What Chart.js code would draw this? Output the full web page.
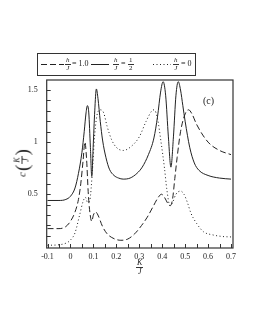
<!DOCTYPE html>
<html>
<head>
<meta charset="utf-8">
<script src="https://cdn.jsdelivr.net/npm/chart.js@4/dist/chart.umd.min.js"></script>
<style>
  html, body { margin: 0; padding: 0; background: #fff; }
  #wrap { position: relative; width: 255px; height: 330px; font-family: "Liberation Serif", serif; color: #222; }
  canvas { position: absolute; left: 0; top: 0; }
  .abs { position: absolute; white-space: nowrap; }
  .fr { position: absolute; display: flex; flex-direction: column; align-items: center; font-size: 7px; line-height: 7px; }
  .fr span:first-child { border-bottom: 1px solid #333; padding: 0 1px; }
  .it { font-style: italic; }
  #legend { position: absolute; left: 37px; top: 53px; width: 157px; height: 21px; border: 1px solid #333; }
  .txt { position: absolute; font-size: 8px; line-height: 8px; }
</style>
</head>
<body>
<div id="wrap">
  <canvas id="chart" width="255" height="330"></canvas>

  <div id="legend">
    <svg width="157" height="21" style="position:absolute;left:0;top:0">
      <line x1="3" y1="10.5" x2="26" y2="10.5" stroke="#222" stroke-width="1" stroke-dasharray="6,3"></line>
      <line x1="53" y1="10.5" x2="71" y2="10.5" stroke="#222" stroke-width="1"></line>
      <line x1="115" y1="10.5" x2="133" y2="10.5" stroke="#222" stroke-width="1" stroke-dasharray="1,2.5"></line>
    </svg>
  </div>
  <div class="fr it" style="left:65px;top:57px"><span>h</span><span>J</span></div>
  <div class="txt" style="left:72px;top:60px">= 1.0</div>
  <div class="fr it" style="left:113px;top:57px"><span>h</span><span>J</span></div>
  <div class="txt" style="left:121px;top:60px">=</div>
  <div class="fr" style="left:128px;top:57px"><span>1</span><span>2</span></div>
  <div class="fr it" style="left:173px;top:57px"><span>h</span><span>J</span></div>
  <div class="txt" style="left:181px;top:60px">= 0</div>

  <div class="abs" style="left:203px;top:95px;font-size:10px">(c)</div>

  <div class="abs" style="left:136px;top:259px">
    <div class="fr it" style="position:relative;font-size:8px;line-height:8px"><span>K</span><span>J</span></div>
  </div>

  <div class="abs" style="left:22px;top:163px;transform:translate(-50%,-50%) rotate(-90deg);display:flex;align-items:center;gap:1px">
    <span class="it" style="font-size:11px;line-height:11px">c</span>
    <span style="font-size:19px;line-height:19px;font-weight:300">(</span>
    <div class="fr it" style="position:relative;font-size:8px;line-height:8px"><span>K</span><span>J</span></div>
    <span style="font-size:19px;line-height:19px;font-weight:300">)</span>
  </div>
</div>

<script>
  // h/J = 1.0 (dashed)
  const DASH_X = [-0.1, -0.05, -0.02, 0, 0.02, 0.035, 0.045, 0.055, 0.063, 0.07, 0.078, 0.085, 0.093, 0.1, 0.11, 0.12, 0.14, 0.16, 0.18, 0.2, 0.22, 0.25, 0.28, 0.31, 0.335, 0.36, 0.38, 0.397, 0.41, 0.425, 0.435, 0.445, 0.455, 0.465, 0.48, 0.5, 0.515, 0.53, 0.55, 0.6, 0.65, 0.7];
  const DASH_Y = [0.17, 0.17, 0.19, 0.24, 0.33, 0.45, 0.6, 0.82, 1.0, 0.85, 0.5, 0.32, 0.24, 0.3, 0.33, 0.3, 0.19, 0.12, 0.085, 0.065, 0.058, 0.07, 0.12, 0.2, 0.28, 0.38, 0.46, 0.5, 0.47, 0.41, 0.39, 0.45, 0.65, 0.85, 1.1, 1.27, 1.31, 1.27, 1.17, 1.0, 0.92, 0.88];

  // h/J = 1/2 (solid)
  const SOLID_X = [-0.1, -0.05, -0.02, 0, 0.02, 0.035, 0.05, 0.06, 0.068, 0.074, 0.08, 0.087, 0.093, 0.099, 0.106, 0.113, 0.12, 0.13, 0.14, 0.155, 0.17, 0.19, 0.21, 0.23, 0.26, 0.29, 0.313, 0.34, 0.364, 0.38, 0.393, 0.404, 0.415, 0.427, 0.438, 0.449, 0.46, 0.47, 0.48, 0.49, 0.5, 0.52, 0.54, 0.56, 0.6, 0.65, 0.7];
  const SOLID_Y = [0.44, 0.44, 0.45, 0.48, 0.56, 0.7, 0.9, 1.1, 1.28, 1.35, 1.28, 0.95, 0.67, 0.95, 1.3, 1.51, 1.42, 1.2, 1.02, 0.85, 0.74, 0.68, 0.655, 0.645, 0.655, 0.7, 0.76, 0.88, 1.04, 1.25, 1.48, 1.58, 1.45, 1.05, 0.76, 1.05, 1.45, 1.58, 1.5, 1.35, 1.2, 0.95, 0.8, 0.73, 0.68, 0.655, 0.645];

  // h/J = 0 (dotted)
  const DOT_X = [-0.1, -0.05, -0.02, 0, 0.02, 0.04, 0.055, 0.065, 0.075, 0.085, 0.095, 0.105, 0.115, 0.13, 0.145, 0.16, 0.18, 0.2, 0.23, 0.26, 0.3, 0.33, 0.355, 0.365, 0.38, 0.395, 0.41, 0.42, 0.434, 0.445, 0.46, 0.48, 0.495, 0.51, 0.525, 0.55, 0.58, 0.62, 0.66, 0.7];
  const DOT_Y = [0.01, 0.015, 0.03, 0.06, 0.13, 0.3, 0.43, 0.47, 0.42, 0.45, 0.7, 1.05, 1.25, 1.31, 1.28, 1.15, 1.02, 0.95, 0.92, 0.95, 1.05, 1.2, 1.3, 1.31, 1.22, 1.0, 0.75, 0.55, 0.39, 0.42, 0.5, 0.53, 0.5, 0.42, 0.32, 0.22, 0.14, 0.11, 0.095, 0.09];

  const X_TICKS = [-0.1, -0.05, 0, 0.05, 0.1, 0.15, 0.2, 0.25, 0.3, 0.35, 0.4, 0.45, 0.5, 0.55, 0.6, 0.65, 0.7];
  const X_LABELS = [-0.1, 0, 0.1, 0.2, 0.3, 0.4, 0.5, 0.6, 0.7];
  const Y_TICKS = [0.1, 0.2, 0.3, 0.4, 0.5, 0.6, 0.7, 0.8, 0.9, 1, 1.1, 1.2, 1.3, 1.4, 1.5];
  const Y_LABELS = [0.5, 1, 1.5];

  function pts(xs, ys) {
    return xs.map(function (x, i) { return { x: x, y: ys[i] }; });
  }

  function isLabel(list, v) {
    return list.some(function (l) { return Math.abs(l - v) < 1e-9; });
  }

  // frame plus inward tick marks, like the original plot
  const framePlugin = {
    id: "frame",
    afterDraw: function (chart) {
      const ctx = chart.ctx;
      const a = chart.chartArea;
      ctx.save();
      ctx.strokeStyle = "#333";
      ctx.lineWidth = 1.2;
      ctx.strokeRect(a.left, a.top, a.right - a.left, a.bottom - a.top);
      ctx.lineWidth = 1;
      chart.scales.x.ticks.forEach(function (t) {
        const px = Math.round(chart.scales.x.getPixelForValue(t.value)) + 0.5;
        ctx.beginPath();
        ctx.moveTo(px, a.bottom);
        ctx.lineTo(px, a.bottom - 4);
        ctx.stroke();
      });
      chart.scales.y.ticks.forEach(function (t) {
        const py = Math.round(chart.scales.y.getPixelForValue(t.value)) + 0.5;
        ctx.beginPath();
        ctx.moveTo(a.left, py);
        ctx.lineTo(a.left + 4, py);
        ctx.stroke();
      });
      ctx.restore();
    },
  };

  const common = { borderColor: "#222", borderWidth: 1, pointRadius: 0, fill: false, cubicInterpolationMode: "monotone" };

  new Chart(document.getElementById("chart"), {
    type: "line",
    data: {
      datasets: [
        Object.assign({ label: "h/J = 1.0", data: pts(DASH_X, DASH_Y), borderDash: [6, 3] }, common),
        Object.assign({ label: "h/J = 1/2", data: pts(SOLID_X, SOLID_Y) }, common),
        Object.assign({ label: "h/J = 0", data: pts(DOT_X, DOT_Y), borderDash: [1, 2.5] }, common),
      ],
    },
    options: {
      responsive: false,
      animation: false,
      events: [],
      layout: { padding: { left: 0, top: 80, right: 22, bottom: 62 } },
      plugins: { legend: { display: false }, tooltip: { enabled: false } },
      scales: {
        x: {
          type: "linear",
          min: -0.1035,
          max: 0.7087,
          afterBuildTicks: function (s) { s.ticks = X_TICKS.map(function (v) { return { value: v }; }); },
          afterFit: function (s) { s.height = 20; },
          border: { display: false },
          grid: { display: false, drawTicks: false },
          ticks: {
            autoSkip: false,
            maxRotation: 0,
            padding: 4,
            color: "#222",
            font: { family: "Liberation Serif", size: 8 },
            callback: function (v) { return isLabel(X_LABELS, v) ? String(v) : ""; },
          },
        },
        y: {
          type: "linear",
          min: -0.016,
          max: 1.596,
          afterBuildTicks: function (s) { s.ticks = Y_TICKS.map(function (v) { return { value: v }; }); },
          afterFit: function (s) { s.width = 46.7; },
          border: { display: false },
          grid: { display: false, drawTicks: false },
          ticks: {
            autoSkip: false,
            padding: 9,
            color: "#222",
            font: { family: "Liberation Serif", size: 8 },
            callback: function (v) { return isLabel(Y_LABELS, v) ? String(v) : ""; },
          },
        },
      },
    },
    plugins: [framePlugin],
  });
</script>
</body>
</html>
